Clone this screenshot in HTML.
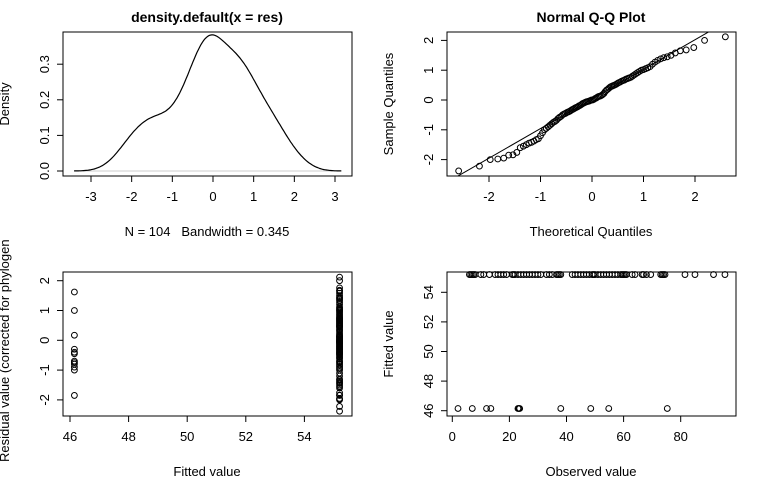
<!DOCTYPE html>
<html><head><meta charset="utf-8"><style>
html,body{margin:0;padding:0;background:#fff}
svg{display:block;font-family:"Liberation Sans",Arial,sans-serif}
</style></head><body>
<svg id="c" width="768" height="480" xmlns="http://www.w3.org/2000/svg">
<defs>
<clipPath id="cp1"><rect x="63" y="32" width="289" height="144"/></clipPath>
<clipPath id="cp2"><rect x="447" y="32" width="289" height="144"/></clipPath>
<clipPath id="cpL"><rect x="0" y="240" width="384" height="240"/></clipPath>
</defs>
</svg>
<script>
// ---- data ----
const residuals = [-2.38,-2.22,-2.0,-1.98,-1.95,-1.85,-1.84,-1.76,-1.6,-1.55,-1.5,-1.45,-1.42,-1.38,-1.33,-1.3,-1.2,-1.1,-1.0,-0.95,-0.9,
-0.85,-0.8,-0.75,-0.72,-0.68,-0.62,-0.58,-0.55,-0.5,-0.47,-0.45,-0.42,-0.4,-0.38,-0.35,-0.32,-0.3,-0.27,-0.25,-0.23,-0.2,-0.18,-0.15,-0.12,-0.08,
-0.06,-0.04,-0.02,0.0,0.02,0.07,-0.1,
0.05,0.1,0.12,0.13,0.15,0.18,0.22,0.28,0.33,0.36,-0.05,0.4,0.0,0.44,0.46,0.48,0.5,0.52,0.55,0.58,0.6,0.63,0.65,0.67,0.7,0.72,0.74,0.76,0.8,0.84,
0.88,0.92,0.96,1.0,1.02,1.05,1.08,1.12,1.2,1.27,1.33,1.38,1.42,1.45,1.5,1.58,1.65,1.68,1.76,2.0,2.12];
const bandwidth = 0.345;
const lowFitted = 46.15, highFitted = 55.2;
const lowGroupResiduals = [1.62,1.0,0.17,-0.3,-0.4,-0.45,-0.7,-0.75,-0.8,-0.9,-1.0,-1.85];
const lowGroupObserved = [2,7,12,13.5,23,23.3,23.6,38,48.5,54.8,75.3];
const highGroupObserved = [6,6.5,7,7.5,8,10,11,13,15,16,17,18,19,21,21.5,22,23,24,25,26,27,28,29,30,31,33,34,35,36.5,37,37.5,38,42,43,44,45,46,47,48,49,49.5,50,51,52,53,54,55,56,57,58,59,59.5,60,60.5,61,63,64,66.5,67,68,69.5,73,73.5,74,74.5,81.5,85,91.5,95.5];
const densTicks = [0,0.1,0.2,0.3], densXTicks=[-3,-2,-1,0,1,2,3];
const qqTicks=[-2,-1,0,1,2];
const p3XTicks=[46,48,50,52,54], p3YTicks=[-2,-1,0,1,2];
const p4XTicks=[0,20,40,60,80], p4YTicks=[46,48,50,52,54];

const svg=document.getElementById('c');
const NS='http://www.w3.org/2000/svg';
function el(tag,attrs,parent){const e=document.createElementNS(NS,tag);for(const k in attrs)e.setAttribute(k,attrs[k]);(parent||svg).appendChild(e);return e;}
function txt(s,attrs,parent){const e=el('text',attrs,parent);e.textContent=s;return e;}

const FS=13;
const d1x=v=>213+v*40.67, d1y=v=>171-v*356;
const q2x=v=>592+v*51.5, q2y=v=>100-v*29.8;
const p3x=v=>70+(v-46)*29.3, p3y=v=>340.3-v*29.8;
const p4x=v=>452.3+v*2.855, p4y=v=>410.7-(v-46)*14.8;

function box(x,y,w,h,name){const r=el('rect',{x:x,y:y,width:w,height:h,fill:'none',stroke:'#000','stroke-width':1});}
function xAxis(ticks,f,yb,name,fmt){const g=el('g',{});
 el('line',{x1:f(ticks[0]),x2:f(ticks[ticks.length-1]),y1:yb,y2:yb,stroke:'#000'},g);
 ticks.forEach(t=>{el('line',{x1:f(t),x2:f(t),y1:yb,y2:yb+6,stroke:'#000'},g);txt(fmt?fmt(t):String(t),{x:f(t),y:yb+25,'font-size':FS,'text-anchor':'middle'},g);});}
function yAxis(ticks,f,xb,name,fmt){const g=el('g',{});
 el('line',{x1:xb,x2:xb,y1:f(ticks[0]),y2:f(ticks[ticks.length-1]),stroke:'#000'},g);
 ticks.forEach(t=>{el('line',{x1:xb,x2:xb-6,y1:f(t),y2:f(t),stroke:'#000'},g);const tx=xb-18;txt(fmt?fmt(t):String(t),{x:tx,y:f(t),'font-size':FS,'text-anchor':'middle',transform:`rotate(-90 ${tx} ${f(t)})`,dy:'4'},g);});}
function label(s,x,y,rot,name,extra,parent){const a=Object.assign({x:x,y:y,'font-size':FS,'text-anchor':'middle'},extra||{});if(rot)a.transform=`rotate(-90 ${x} ${y})`;const t=txt(s,a,parent);return t;}
function pt(x,y,parent,name){const c=el('circle',{cx:x,cy:y,r:2.9,fill:'none',stroke:'#000','stroke-width':1},parent);}

// ---- Panel 1: density ----
const sorted=residuals.slice().sort((a,b)=>a-b);
const n=sorted.length;
const t1=txt('density.default(x = res)',{x:207,y:22,'font-size':14,'font-weight':'bold','text-anchor':'middle'});

box(63,32,289,144,'density-plot-box');
xAxis(densXTicks,d1x,176,'density-x-axis');
yAxis(densTicks,d1y,63,'density-y-axis',t=>t.toFixed(1));
label('Density',9,104,true,'density-y-title');
label('N = 104\u00A0\u00A0\u00A0Bandwidth = 0.345',207,236,false,'density-x-title');
el('line',{x1:d1x(sorted[0]-3*bandwidth),x2:d1x(sorted[n-1]+3*bandwidth),y1:d1y(0),y2:d1y(0),stroke:'#ccc','stroke-width':1});
let dpath='';
const lo=sorted[0]-3*bandwidth, hi=sorted[n-1]+3*bandwidth;
for(let i=0;i<=200;i++){const x=lo+(hi-lo)*i/200;let s=0;for(const r of sorted){const z=(x-r)/bandwidth;s+=Math.exp(-z*z/2);}s/=n*bandwidth*Math.sqrt(2*Math.PI);dpath+=(i?'L':'M')+d1x(x).toFixed(1)+' '+d1y(s).toFixed(1);}
const dl=el('path',{d:dpath,fill:'none',stroke:'#000','stroke-width':1.2});


// ---- Panel 2: QQ ----
function qnorm(p){
 const a=[-39.6968302866538,220.946098424521,-275.928510446969,138.357751867269,-30.6647980661472,2.50662827745924],b=[-54.4760987982241,161.585836858041,-155.698979859887,66.8013118877197,-13.2806815528857],c=[-0.00778489400243029,-0.322396458041136,-2.40075827716184,-2.54973253934373,4.37466414146497,2.93816398269878],d=[0.00778469570904146,0.32246712907004,2.445134137143,3.75440866190742];
 const pl=0.02425;let q,r;
 if(p<pl){q=Math.sqrt(-2*Math.log(p));return (((((c[0]*q+c[1])*q+c[2])*q+c[3])*q+c[4])*q+c[5])/((((d[0]*q+d[1])*q+d[2])*q+d[3])*q+1);}
 if(p>1-pl){q=Math.sqrt(-2*Math.log(1-p));return -(((((c[0]*q+c[1])*q+c[2])*q+c[3])*q+c[4])*q+c[5])/((((d[0]*q+d[1])*q+d[2])*q+d[3])*q+1);}
 q=p-0.5;r=q*q;return (((((a[0]*r+a[1])*r+a[2])*r+a[3])*r+a[4])*r+a[5])*q/(((((b[0]*r+b[1])*r+b[2])*r+b[3])*r+b[4])*r+1);}
const t2=txt('Normal Q-Q Plot',{x:591,y:22,'font-size':14,'font-weight':'bold','text-anchor':'middle'});

box(447,32,289,144,'qq-plot-box');
xAxis(qqTicks,q2x,176,'qq-x-axis');
yAxis(qqTicks,q2y,447,'qq-y-axis');
label('Theoretical Quantiles',591,236,false,'qq-x-title');
label('Sample Quantiles',393,104,true,'qq-y-title');
const g2=el('g',{'clip-path':'url(#cp2)'});
const theo=sorted.map((v,i)=>qnorm((i+1-0.5)/n));
sorted.forEach((v,i)=>pt(q2x(theo[i]),q2y(v),g2,'qq-point'));
function quant(p){const h=(n-1)*p,l=Math.floor(h);return sorted[l]+(h-l)*(sorted[l+1]-sorted[l]);}
const y1=quant(0.25),y2=quant(0.75),x1=qnorm(0.25),x2=qnorm(0.75);const sl=(y2-y1)/(x2-x1),ic=y1-sl*x1;
const ql=el('line',{x1:q2x(-4),y1:q2y(ic-4*sl),x2:q2x(4),y2:q2y(ic+4*sl),stroke:'#000','stroke-width':1,'clip-path':'url(#cp2)'});


// ---- Panel 3: residual vs fitted ----
box(63,272,289,144,'residual-plot-box');
xAxis(p3XTicks,p3x,416,'residual-x-axis');
yAxis(p3YTicks,p3y,63,'residual-y-axis');
label('Fitted value',207,476,false,'residual-x-title');
const clipG=el('g',{'clip-path':'url(#cpL)'});
label('Residual value (corrected for phylogenetic signal)',9,462,true,'residual-y-title',{'text-anchor':'start'},clipG);
const g3b=el('g',{});
lowGroupResiduals.forEach(r=>pt(p3x(lowFitted),p3y(r),g3b,'residual-point-low'));
residuals.forEach(r=>pt(p3x(highFitted),p3y(r),g3b,'residual-point-high'));

// ---- Panel 4: fitted vs observed ----
box(447,272,289,144,'fitted-plot-box');
xAxis(p4XTicks,p4x,416,'fitted-x-axis');
yAxis(p4YTicks,p4y,447,'fitted-y-axis');
label('Observed value',591,476,false,'fitted-x-title');
label('Fitted value',393,344,true,'fitted-y-title');
const g4=el('g',{});
lowGroupObserved.forEach(o=>pt(p4x(o),p4y(lowFitted),g4,'fitted-point-low'));
highGroupObserved.forEach(o=>pt(p4x(o),p4y(highFitted),g4,'fitted-point-high'));
</script>
</body></html>
